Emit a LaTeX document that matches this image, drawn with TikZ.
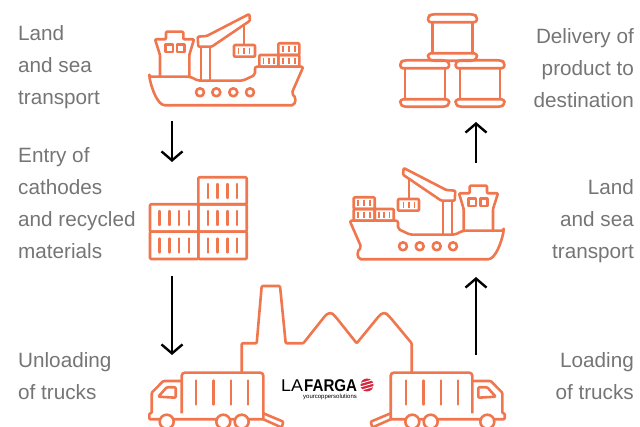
\documentclass[tikz,border=0pt]{standalone}
\usepackage{fontspec}
\setmainfont{Liberation Sans}
\setsansfont{Liberation Sans}
\usetikzlibrary{arrows.meta}
\definecolor{shipred}{HTML}{F0764E}
\definecolor{labelgray}{HTML}{757575}
\definecolor{logored}{HTML}{D5283F}
\tikzset{
  icon/.style={draw=shipred, line width=2.6pt, rounded corners=1pt, line join=round},
  bar/.style={draw=shipred, line width=2.4pt, line cap=round},
  slat/.style={draw=shipred, line width=1.8pt},
  flow/.style={draw=black, line width=2.4pt, -{Straight Barb[length=9pt,width=21pt,line width=2.4pt]}},
  lefttext/.style={anchor=base west, font=\fontsize{20.7}{24}\selectfont, text=labelgray, inner sep=0pt},
  righttext/.style={anchor=base east, font=\fontsize{20.7}{24}\selectfont, text=labelgray, inner sep=0pt}
}
\newcommand{\shipicon}{%
  \draw[icon, rounded corners=2pt] (149.3,76.7) -- (190,76.7) -- (198.3,80.7) -- (242.7,80.7) -- (255,75) -- (255,66.7) -- (303.3,66.7) -- (291.7,93.3) -- (296,98.3) -- (294,105.3) -- (167,105.3) .. controls (158,105.3) and (152,90) .. (149.3,76.7) -- cycle;
  \draw[icon] (160,76.7) -- (160,55) -- (155,39.3) -- (166,39.3) -- (166,31.7) -- (183.3,31.7) -- (183.3,39.3) -- (194,39.3) -- (189.3,55) -- (189.3,76);
  \draw[icon, rounded corners=0pt] (165.5,44.5) rectangle (172.8,52);
  \draw[icon, rounded corners=0pt] (177,44.5) rectangle (184.5,52);
  \draw[bar] (201,46.7) -- (201,80);
  \draw[bar] (210,46.7) -- (210,80);
  \draw[icon] (197.7,36.7) -- (206.7,36) -- (249.3,14) -- (250,20.7) -- (211.7,46.7) -- (198.3,46.7) -- cycle;
  \draw[bar] (244,25) -- (244,45);
  \draw[icon] (234,45) rectangle (255,56.7);
  \draw[icon] (259.3,55) rectangle (278.3,66.7);
  \draw[icon] (278.3,55) rectangle (299.3,66.7);
  \draw[icon] (278.3,43.3) rectangle (299.3,55);
  \foreach \xa in {238.5,244,249.5} \draw[slat] (\xa,48) -- (\xa,54);
  \foreach \xa in {263.5,268.8,274,283,289,295} \draw[slat] (\xa,58) -- (\xa,64);
  \foreach \xa in {283,289,295} \draw[slat] (\xa,46.5) -- (\xa,52.5);
  \foreach \xa in {200,216.3,233.3,250} \draw[icon] (\xa,92.3) circle (4);
}
\newcommand{\truckicon}{%
  \draw[icon, rounded corners=3pt] (181.7,413.3) -- (181.7,372.7) -- (263.3,372.7) -- (263.3,419.3);
  \draw[icon] (181.7,381) -- (163.3,381) -- (151.7,392.7) -- (151.7,413.3) -- (149.3,413.3) -- (149.3,419.3) -- (263.3,419.3);
  \draw[icon] (158.3,396.7) -- (166.7,387.3) -- (175.7,387.3) -- (175.7,397.7) -- cycle;
  \foreach \xa in {166.7,223.3,241.7} \draw[icon, fill=white] (\xa,421.7) circle (7);
  \foreach \xa in {196,213.3,230.7,248} \draw[bar] (\xa,380.5) -- (\xa,404.5);
  \draw[icon] (263.3,413.3) -- (283.3,421.7) -- (281.7,427.5) -- (263.3,419.3);
}
\newcommand{\barrelicon}[2]{%
  \draw[icon, rounded corners=3pt] (#1-24.5,#2+8) -- (#1-24.5,#2+2) -- (#1-21,#2) -- (#1+21,#2) -- (#1+24.5,#2+2) -- (#1+24.5,#2+8) -- cycle;
  \draw[bar] (#1-20,#2+8) -- (#1-20,#2+39);
  \draw[bar] (#1+20,#2+8) -- (#1+20,#2+39);
  \draw[icon, rounded corners=3pt] (#1-24.5,#2+39) -- (#1-24.5,#2+44) -- (#1-21,#2+46.5) -- (#1+21,#2+46.5) -- (#1+24.5,#2+44) -- (#1+24.5,#2+39) -- cycle;
}
\begin{document}
\begin{tikzpicture}[x=1pt, y=-1pt]
  \useasboundingbox (0,0) rectangle (640,427);
  % ships
  \shipicon
  \begin{scope}[shift={(653,154)}, xscale=-1]
    \shipicon
  \end{scope}
  % containers
  \draw[icon] (198.3,177.3) rectangle (246.7,204.3);
  \draw[icon] (150,204.3) rectangle (198.3,231.7);
  \draw[icon] (198.3,204.3) rectangle (246.7,231.7);
  \draw[icon] (150,231.7) rectangle (198.3,259);
  \draw[icon] (198.3,231.7) rectangle (246.7,259);
  \foreach \xa in {207.7,217.3,227.3,237} {
    \draw[bar] (\xa,184) -- (\xa,198);
    \draw[bar] (\xa,211) -- (\xa,225);
    \draw[bar] (\xa,238.5) -- (\xa,252.5);
  }
  \foreach \xa in {159.3,169.3,178.7,188.7} {
    \draw[bar] (\xa,211) -- (\xa,225);
    \draw[bar] (\xa,238.5) -- (\xa,252.5);
  }
  % barrels
  \barrelicon{452.5}{14.3}
  \barrelicon{424.7}{60.3}
  \barrelicon{480}{60.3}
  % factory
  \draw[icon, rounded corners=1pt] (241.7,372) -- (241.7,343.3) -- (256.7,343.3) -- (261.7,286) -- (280,286) -- (285.7,343.3) -- (303.3,343.3) -- (325,316) [rounded corners=4pt] -- (330,311.5) -- (335,316) [rounded corners=1pt] -- (356.7,343.3) -- (379,316) [rounded corners=4pt] -- (384,311.5) -- (389,316) [rounded corners=1pt] -- (411.7,343.3) -- (411.7,372);
  % trucks
  \truckicon
  \begin{scope}[shift={(654,0)}, xscale=-1]
    \truckicon
  \end{scope}
  % logo
  \node (logola) [anchor=base west, inner sep=0pt, xscale=1.05, font=\sffamily\fontsize{17}{17}\selectfont] at (281,392) {LA};
  \node (logofarga) [anchor=base west, inner sep=0pt, xscale=0.89, font=\sffamily\bfseries\fontsize{17}{17}\selectfont] at (304,392) {FARGA};
  \node (logotag) [anchor=base west, inner sep=0pt, font=\sffamily\fontsize{6}{6}\selectfont] at (303,399) {yourcoppersolutions};
  \fill[logored] (367,385) circle (6.5);
  \foreach \ya in {381.5,385,388.5} \draw[white, line width=0.9pt] (360,\ya+2) -- (374,\ya-2);
  % arrows
  \coordinate (aa) at (172,121);
  \coordinate (ab) at (172,162);
  \coordinate (ba) at (172,276);
  \coordinate (bb) at (172,355);
  \coordinate (ca) at (476,355);
  \coordinate (cb) at (476,277);
  \coordinate (da) at (476,163);
  \coordinate (db) at (476,122);
  \draw[flow] (aa) -- (ab);
  \draw[flow] (ba) -- (bb);
  \draw[flow] (ca) -- (cb);
  \draw[flow] (da) -- (db);
  % left labels
  \node (landa) [lefttext] at (18,41) {Land};
  \node (landb) [lefttext] at (18,73) {and sea};
  \node (landc) [lefttext] at (18,105) {transport};
  \node (entrya) [lefttext] at (18,163) {Entry of};
  \node (entryb) [lefttext] at (18,195) {cathodes};
  \node (entryc) [lefttext] at (18,227) {and recycled};
  \node (entryd) [lefttext] at (18,259) {materials};
  \node (unla) [lefttext] at (18,368) {Unloading};
  \node (unlb) [lefttext] at (18,400) {of trucks};
  % right labels
  \node (dela) [righttext] at (634,44) {Delivery of};
  \node (delb) [righttext] at (634,76) {product to};
  \node (delc) [righttext] at (634,108) {destination};
  \node (seaa) [righttext] at (634,195) {Land};
  \node (seab) [righttext] at (634,227) {and sea};
  \node (seac) [righttext] at (634,259) {transport};
  \node (loada) [righttext] at (634,368) {Loading};
  \node (loadb) [righttext] at (634,400) {of trucks};
\end{tikzpicture}
\end{document}
